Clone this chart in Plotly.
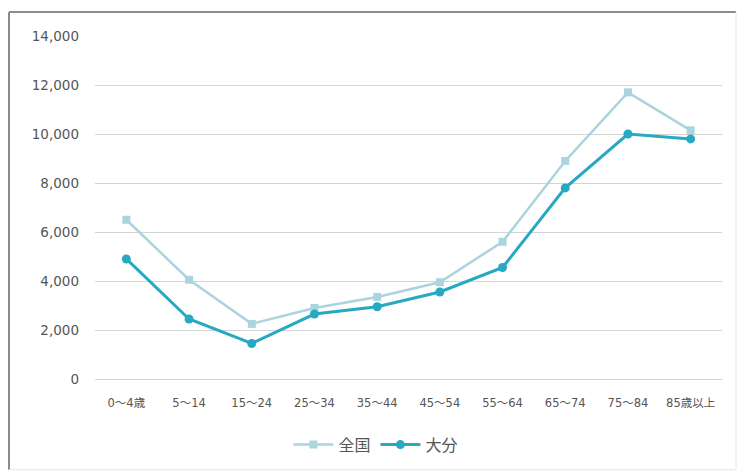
import plotly.graph_objects as go

# Age groups and values per 100k (全国 vs 大分)
categories = ["0～4歳", "5～14", "15～24", "25～34", "35～44", "45～54",
              "55～64", "65～74", "75～84", "85歳以上"]
zenkoku = [6500, 4050, 2250, 2900, 3350, 3950, 5600, 8900, 11700, 10150]
oita = [4900, 2450, 1450, 2650, 2950, 3550, 4550, 7800, 10000, 9800]
y_ticks = [0, 2000, 4000, 6000, 8000, 10000, 12000, 14000]

FONT = "DejaVu Sans, Noto Sans CJK JP"
GRAY = "#555555"

fig = go.Figure()
fig.add_trace(go.Scatter(
    x=categories, y=zenkoku, name="全国", mode="lines+markers",
    line=dict(color="#aad4de", width=2.5),
    marker=dict(symbol="square", size=8, color="#aad4de"),
))
fig.add_trace(go.Scatter(
    x=categories, y=oita, name="大分", mode="lines+markers",
    line=dict(color="#27a9c2", width=3),
    marker=dict(symbol="circle", size=9, color="#27a9c2"),
))

fig.update_layout(
    width=739, height=473,
    margin=dict(l=95, r=17, t=36, b=93),
    paper_bgcolor="white", plot_bgcolor="white",
    font=dict(family=FONT, color=GRAY),
    showlegend=True,
    legend=dict(orientation="h", x=0.448, xanchor="center", y=-0.188, yanchor="middle",
                font=dict(family="Noto Sans CJK JP", size=16, color=GRAY),
                itemwidth=40, traceorder="normal"),
    xaxis=dict(showgrid=False, showline=True, linecolor="#d4d4d4", linewidth=1,
               tickfont=dict(size=11.5, color=GRAY), ticks="", ticklabelstandoff=13,
               range=[-0.5, 9.5]),
    yaxis=dict(range=[0, 14000], tickvals=y_ticks, tickformat=",",
               showgrid=True, gridcolor="#d4d4d4", gridwidth=1, zeroline=False,
               tickfont=dict(size=13.5, color=GRAY), ticklabelstandoff=15),
)

# Outer frame around the chart area
frame = [
    dict(x0=9, x1=736, y0=12, y1=12, color="#8c8c8c", w=2),
    dict(x0=9, x1=9, y0=12, y1=471, color="#8c8c8c", w=2),
    dict(x0=736, x1=736, y0=12, y1=471, color="#e6e6e6", w=1),
    dict(x0=9, x1=736, y0=471, y1=471, color="#e6e6e6", w=1),
]
for s in frame:
    fig.add_shape(type="line", xref="paper", yref="paper",
                  x0=(s["x0"] - 95) / 627, x1=(s["x1"] - 95) / 627,
                  y0=(380 - s["y0"]) / 344, y1=(380 - s["y1"]) / 344,
                  line=dict(color=s["color"], width=s["w"]))

fig.write_html("out.html")
